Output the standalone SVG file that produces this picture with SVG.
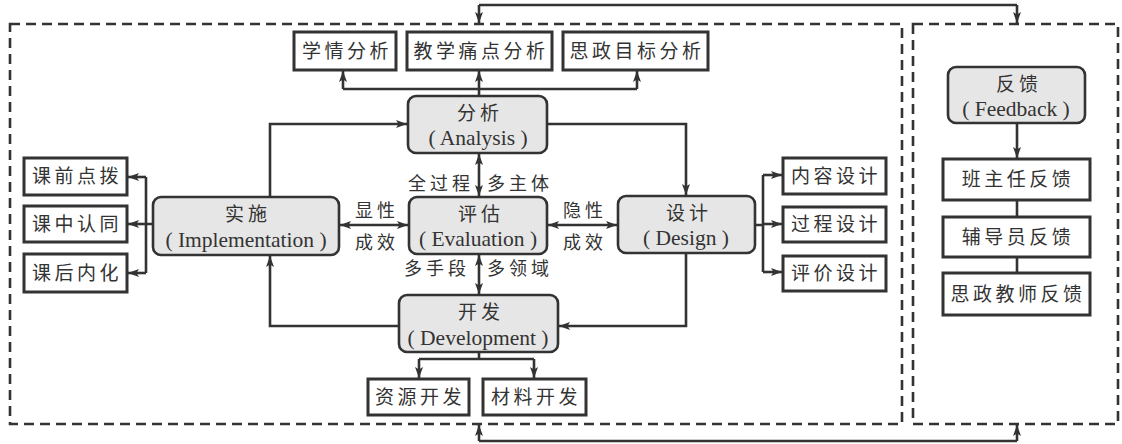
<svg xmlns="http://www.w3.org/2000/svg" width="1122" height="444" viewBox="0 0 1122 444">
<defs>
<marker id="ah" markerUnits="userSpaceOnUse" markerWidth="11" markerHeight="8" refX="11" refY="4" orient="auto-start-reverse" viewBox="0 0 11 8">
<path d="M0,0 L11,4 L0,8 L2.5,4 z" fill="#333"/>
</marker>
<style>
.dash{fill:none;stroke:#333;stroke-width:2.6;stroke-dasharray:10 6}
.box{fill:#fff;stroke:#333;stroke-width:3}
.rbox{fill:#e6e6e6;stroke:#333;stroke-width:2.6}
.c{fill:none;stroke:#333;stroke-width:2.6}
.a{marker-end:url(#ah)}
.b{marker-start:url(#ah);marker-end:url(#ah)}
text{font-family:"Liberation Serif","Noto Sans CJK SC",serif;fill:#333;text-anchor:middle}
.zh{font-size:19px;letter-spacing:3.5px}
.zt{font-size:19px;letter-spacing:4px}
.en{font-size:21.5px}
.lb{font-size:18px;letter-spacing:4px}
</style>
</defs>
<rect fill="#fff" width="1122" height="444"/>
<g id="frames">
<rect class="dash" x="10" y="24" width="892" height="400"/>
<rect class="dash" x="913" y="24" width="205" height="400"/>
</g>
<g id="connectors">
<path class="c" d="M479,5 H1017"/>
<path class="c a" d="M479,5 V23"/>
<path class="c a" d="M1017,5 V23"/>
<path class="c" d="M479,441 H1017"/>
<path class="c a" d="M479,441 V425"/>
<path class="c a" d="M1017,441 V425"/>
<path class="c a" d="M479,96 V71"/>
<path class="c" d="M343,89 H637"/>
<path class="c a" d="M343,89 V71"/>
<path class="c a" d="M637,89 V71"/>
<path class="c a" d="M547,124 H686 V195"/>
<path class="c a" d="M270,197 V124 H407"/>
<path class="c a" d="M686,253 V326 H559"/>
<path class="c a" d="M399,326 H270 V256"/>
<path class="c b" d="M340,225 H408"/>
<path class="c b" d="M548,225 H617"/>
<path class="c b" d="M479,154 V196"/>
<path class="c b" d="M479,255 V294"/>
<path class="c" d="M153,224 H146 M146,177 V273"/>
<path class="c a" d="M146,177 H128"/>
<path class="c a" d="M146,224 H128"/>
<path class="c a" d="M146,273 H128"/>
<path class="c" d="M755,225 H763 M763,175 V272"/>
<path class="c a" d="M763,175 H782"/>
<path class="c a" d="M763,224 H782"/>
<path class="c a" d="M763,272 H782"/>
<path class="c" d="M479,352 V359 M419,359 H534"/>
<path class="c a" d="M419,359 V378"/>
<path class="c a" d="M534,359 V378"/>
<path class="c a" d="M1017,123 V158"/>
<path class="c" d="M1017,200 V217 M1017,257 V273"/>
</g>
<g id="labels">
<text class="lb" x="377" y="217">显性</text>
<text class="lb" x="377" y="249">成效</text>
<text class="lb" x="585" y="217">隐性</text>
<text class="lb" x="585" y="249">成效</text>
<text class="lb" x="441" y="190">全过程</text>
<text class="lb" x="520" y="190">多主体</text>
<text class="lb" x="437" y="275">多手段</text>
<text class="lb" x="520" y="275">多领域</text>
</g>
<g id="n-xueqing"><rect class="box" x="294" y="32" width="102" height="38"/><text class="zh" x="347" y="58">学情分析</text></g>
<g id="n-tongdian"><rect class="box" x="407" y="32" width="145" height="38"/><text class="zh" x="481" y="58">教学痛点分析</text></g>
<g id="n-sizheng"><rect class="box" x="563" y="32" width="145" height="38"/><text class="zh" x="637" y="58">思政目标分析</text></g>
<g id="n-analysis"><rect class="rbox" x="408" y="96" width="139" height="57" rx="8"/><text class="zt" x="480" y="120">分析</text><text class="en" x="478" y="145">( Analysis )</text></g>
<g id="n-implementation"><rect class="rbox" x="153" y="197" width="186" height="58" rx="8"/><text class="zt" x="248" y="221">实施</text><text class="en" x="246" y="247">( Implementation )</text></g>
<g id="n-evaluation"><rect class="rbox" x="409" y="197" width="138" height="57" rx="8"/><text class="zt" x="481" y="221">评估</text><text class="en" x="478" y="246">( Evaluation )</text></g>
<g id="n-design"><rect class="rbox" x="618" y="196" width="137" height="57" rx="8"/><text class="zt" x="689" y="220">设计</text><text class="en" x="686" y="245">( Design )</text></g>
<g id="n-development"><rect class="rbox" x="399" y="295" width="159" height="57" rx="8"/><text class="zt" x="481" y="319">开发</text><text class="en" x="478" y="345">( Development )</text></g>
<g id="n-kqian"><rect class="box" x="24" y="158" width="103" height="37"/><text class="zh" x="77" y="183">课前点拨</text></g>
<g id="n-kzhong"><rect class="box" x="24" y="206" width="103" height="36"/><text class="zh" x="77" y="231">课中认同</text></g>
<g id="n-khou"><rect class="box" x="24" y="254" width="103" height="38"/><text class="zh" x="77" y="280">课后内化</text></g>
<g id="n-neirong"><rect class="box" x="783" y="158" width="103" height="36"/><text class="zh" x="836" y="183">内容设计</text></g>
<g id="n-guocheng"><rect class="box" x="783" y="207" width="103" height="35"/><text class="zh" x="836" y="231">过程设计</text></g>
<g id="n-pingjia"><rect class="box" x="783" y="256" width="103" height="35"/><text class="zh" x="836" y="280">评价设计</text></g>
<g id="n-ziyuan"><rect class="box" x="368" y="379" width="101" height="36"/><text class="zh" x="420" y="404">资源开发</text></g>
<g id="n-cailiao"><rect class="box" x="483" y="379" width="103" height="36"/><text class="zh" x="536" y="404">材料开发</text></g>
<g id="n-feedback"><rect class="rbox" x="948" y="67" width="137" height="56" rx="8"/><text class="zt" x="1019" y="91">反馈</text><text class="en" x="1016" y="116">( Feedback )</text></g>
<g id="n-banzhuren"><rect class="box" x="943" y="159" width="147" height="41"/><text class="zh" x="1018" y="186">班主任反馈</text></g>
<g id="n-fudaoyuan"><rect class="box" x="943" y="217" width="147" height="40"/><text class="zh" x="1018" y="244">辅导员反馈</text></g>
<g id="n-jiaoshi"><rect class="box" x="943" y="273" width="147" height="42"/><text class="zh" x="1018" y="301">思政教师反馈</text></g>
</svg>
